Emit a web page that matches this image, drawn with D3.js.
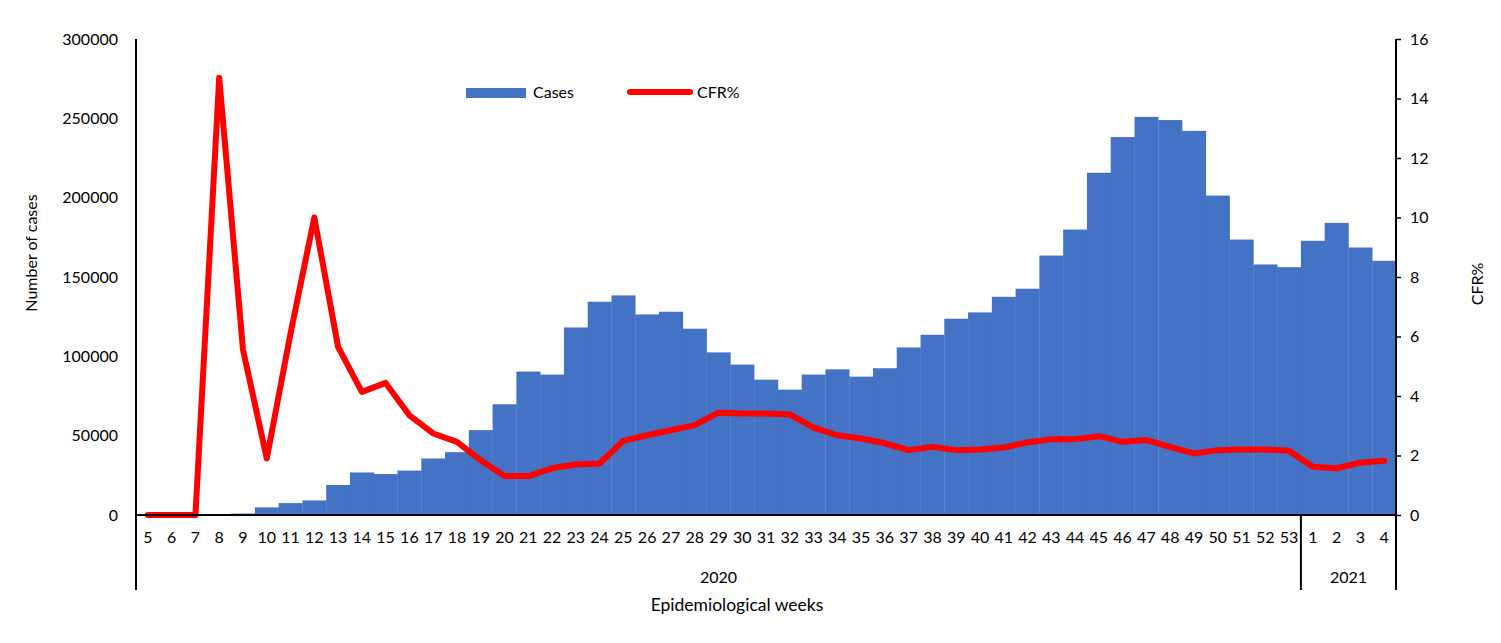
<!DOCTYPE html>
<html>
<head>
<meta charset="utf-8">
<script src="https://cdn.jsdelivr.net/npm/d3@7"></script>
<style>
  html, body { margin: 0; padding: 0; background: #fff; }
  svg { display: block; }
  text { font-family: Lato, "Open Sans", sans-serif; fill: #000; }
</style>
</head>
<body>
<svg id="chart" width="1501" height="643"></svg>
<script>
// ---- data ----
const weeks = ["5","6","7","8","9","10","11","12","13","14","15","16","17","18","19","20","21","22","23","24","25","26","27","28","29","30","31","32","33","34","35","36","37","38","39","40","41","42","43","44","45","46","47","48","49","50","51","52","53","1","2","3","4"];
const years = ["2020","2020","2020","2020","2020","2020","2020","2020","2020","2020","2020","2020","2020","2020","2020","2020","2020","2020","2020","2020","2020","2020","2020","2020","2020","2020","2020","2020","2020","2020","2020","2020","2020","2020","2020","2020","2020","2020","2020","2020","2020","2020","2020","2020","2020","2020","2020","2020","2020","2021","2021","2021","2021"];
const cases = [200, 300, 400, 600, 900, 4800, 7500, 9200, 18900, 26800, 25800, 28000, 35600, 39600, 53500, 69800, 90400, 88500, 118200, 134400, 138400, 126400, 128100, 117400, 102500, 94800, 85300, 79000, 88500, 91800, 87200, 92500, 105600, 113600, 123700, 127700, 137500, 142600, 163500, 179900, 215700, 238200, 250900, 248900, 242100, 201300, 173600, 157900, 156200, 172800, 184100, 168600, 160200];
const cfr = [0, 0, 0, 14.7, 5.56, 1.9, 6.1, 10.0, 5.65, 4.14, 4.44, 3.35, 2.74, 2.46, 1.84, 1.31, 1.31, 1.57, 1.70, 1.73, 2.49, 2.68, 2.85, 3.02, 3.44, 3.41, 3.41, 3.38, 2.94, 2.68, 2.57, 2.41, 2.18, 2.29, 2.18, 2.20, 2.27, 2.44, 2.55, 2.55, 2.65, 2.46, 2.52, 2.29, 2.07, 2.18, 2.20, 2.20, 2.16, 1.62, 1.57, 1.76, 1.82];
const leftTicks = [0, 50000, 100000, 150000, 200000, 250000, 300000];
const rightTicks = [0, 2, 4, 6, 8, 10, 12, 14, 16];
const yearLabels = ["2020", "2021"];

// ---- layout ----
const svg = d3.select("#chart");
const plot = { left: 136, right: 1396, top: 39, bottom: 515 };
const groupBottom = 590;
const barColor = "#4472C4";
const lineColor = "#FF0000";

const idx = weeks.map((d, i) => i);
const x = d3.scaleBand().domain(idx).range([plot.left, plot.right]).padding(0);
const yL = d3.scaleLinear().domain([0, 300000]).range([plot.bottom, plot.top]);
const yR = d3.scaleLinear().domain([0, 16]).range([plot.bottom, plot.top]);

// bars
svg.append("g").selectAll("rect").data(cases).join("rect")
  .attr("x", (d, i) => x(i))
  .attr("width", x.bandwidth() + 0.3)
  .attr("y", d => yL(d))
  .attr("height", d => yL(0) - yL(d))
  .attr("fill", barColor);

// line
const line = d3.line().x((d, i) => x(i) + x.bandwidth() / 2).y(d => yR(d));
svg.append("path").datum(cfr)
  .attr("d", line)
  .attr("fill", "none")
  .attr("stroke", lineColor)
  .attr("stroke-width", 6)
  .attr("stroke-linejoin", "round")
  .attr("stroke-linecap", "round");

// left axis (no ticks)
const axL = svg.append("g").attr("transform", `translate(${plot.left},0)`)
  .call(d3.axisLeft(yL).tickValues(leftTicks).tickSize(0).tickPadding(18).tickFormat(d3.format("d")));
axL.select(".domain").remove();
axL.selectAll("text").style("font-size", "16px").style("font-family", "Lato, 'Open Sans', sans-serif");

// right axis
const axR = svg.append("g").attr("transform", `translate(${plot.right},0)`)
  .call(d3.axisRight(yR).tickValues(rightTicks).tickSize(5).tickPadding(9).tickFormat(d3.format("d")));
axR.select(".domain").remove();
axR.selectAll("line").attr("stroke", "#000").attr("stroke-width", 1.5);
axR.selectAll("text").style("font-size", "16px").style("font-family", "Lato, 'Open Sans', sans-serif");

// bottom axis: week labels
const axB = svg.append("g").attr("transform", `translate(0,${plot.bottom})`)
  .call(d3.axisBottom(x).tickSize(0).tickPadding(17).tickFormat(i => weeks[i]));
axB.select(".domain").remove();
axB.selectAll("text").style("font-size", "16px").style("font-family", "Lato, 'Open Sans', sans-serif");

// axis lines
svg.append("line").attr("x1", plot.left).attr("x2", plot.right).attr("y1", plot.bottom).attr("y2", plot.bottom)
  .attr("stroke", "#000").attr("stroke-width", 2);
svg.append("line").attr("x1", plot.left).attr("x2", plot.left).attr("y1", plot.top).attr("y2", groupBottom)
  .attr("stroke", "#000").attr("stroke-width", 2);
svg.append("line").attr("x1", plot.right).attr("x2", plot.right).attr("y1", plot.top).attr("y2", groupBottom)
  .attr("stroke", "#000").attr("stroke-width", 2);

// year group separators and labels
yearLabels.forEach(yr => {
  const members = idx.filter(i => years[i] === yr);
  const x0 = x(members[0]);
  const x1 = x(members[members.length - 1]) + x.bandwidth();
  if (x0 > plot.left + 1) {
    svg.append("line").attr("x1", x0).attr("x2", x0).attr("y1", plot.bottom).attr("y2", groupBottom)
      .attr("stroke", "#000").attr("stroke-width", 2);
  }
  svg.append("text").attr("x", (x0 + x1) / 2).attr("y", 583)
    .attr("text-anchor", "middle").style("font-size", "16px").text(yr);
});

// axis titles
svg.append("text").attr("x", 737).attr("y", 611)
  .attr("text-anchor", "middle").style("font-size", "17.5px").text("Epidemiological weeks");
svg.append("text").attr("transform", `translate(37,253) rotate(-90)`)
  .attr("text-anchor", "middle").style("font-size", "16px").text("Number of cases");
svg.append("text").attr("transform", `translate(1483,284) rotate(-90)`)
  .attr("text-anchor", "middle").style("font-size", "16px").text("CFR%");

// legend
const lg = svg.append("g");
lg.append("rect").attr("x", 466).attr("y", 88).attr("width", 60).attr("height", 10).attr("fill", barColor);
lg.append("text").attr("x", 533).attr("y", 98).style("font-size", "16px").text("Cases");
lg.append("line").attr("x1", 630).attr("x2", 690).attr("y1", 92).attr("y2", 92)
  .attr("stroke", lineColor).attr("stroke-width", 6).attr("stroke-linecap", "round");
lg.append("text").attr("x", 697).attr("y", 98).style("font-size", "16px").text("CFR%");
</script>
</body>
</html>
